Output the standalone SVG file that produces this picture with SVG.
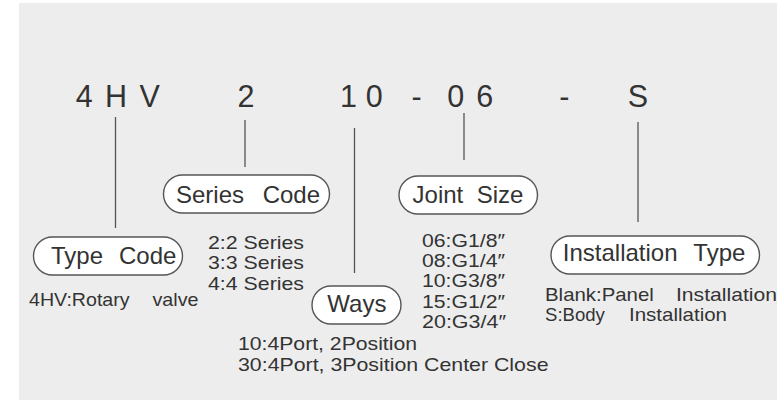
<svg xmlns="http://www.w3.org/2000/svg" width="778" height="402" viewBox="0 0 778 402">
<style>
  text { font-family: "Liberation Sans", Arial, "DejaVu Sans", sans-serif; fill: #333; }
  .code { font-size: 30.5px; text-anchor: middle; }
  .pill { fill: #fff; stroke: #555; stroke-width: 1.4; }
  .lbl { font-size: 24px; }
  .sm { font-size: 18.5px; }
  .conn line { stroke: #555; stroke-width: 1.3; }
</style>
<rect x="19" y="3" width="758" height="397" fill="#ededed"/>

<g id="model-code">
  <text class="code" x="84.3" y="106.7">4</text>
  <text class="code" x="116" y="106.7">H</text>
  <text class="code" x="149.7" y="106.7">V</text>
  <text class="code" x="246" y="106.7">2</text>
  <text class="code" x="348.6" y="106.7">1</text>
  <text class="code" x="374.2" y="106.7">0</text>
  <text class="code" x="416.7" y="106.7">-</text>
  <text class="code" x="455.8" y="106.7">0</text>
  <text class="code" x="484.7" y="106.7">6</text>
  <text class="code" x="564.3" y="106.7">-</text>
  <text class="code" x="637.8" y="106.7">S</text>
</g>

<g id="connectors" class="conn">
  <line x1="115.5" y1="117" x2="115.5" y2="228"/>
  <line x1="245" y1="120" x2="245" y2="167"/>
  <line x1="354.5" y1="128" x2="354.5" y2="273"/>
  <line x1="464" y1="113" x2="464" y2="160"/>
  <line x1="638" y1="122" x2="638" y2="222"/>
</g>

<g id="type-code">
  <rect class="pill" x="33.5" y="237" width="149" height="38" rx="19"/>
  <text class="lbl" y="263.5"><tspan x="51">Type </tspan><tspan x="119">Code</tspan></text>
  <text class="sm" y="306"><tspan x="29" textLength="106" lengthAdjust="spacingAndGlyphs">4HV:Rotary </tspan><tspan x="152.5" textLength="46" lengthAdjust="spacingAndGlyphs">valve</tspan></text>
</g>

<g id="series-code">
  <rect class="pill" x="163.5" y="175" width="166" height="38" rx="19"/>
  <text class="lbl" y="202.7"><tspan x="176">Series </tspan><tspan x="262.7">Code</tspan></text>
  <text class="sm" x="208" y="248.5" textLength="96" lengthAdjust="spacingAndGlyphs">2:2 Series</text>
  <text class="sm" x="208" y="269" textLength="96" lengthAdjust="spacingAndGlyphs">3:3 Series</text>
  <text class="sm" x="208" y="289.5" textLength="96" lengthAdjust="spacingAndGlyphs">4:4 Series</text>
</g>

<g id="ways">
  <rect class="pill" x="312" y="286" width="89" height="38" rx="19"/>
  <text class="lbl" x="327.3" y="311.7">Ways</text>
  <text class="sm" x="238" y="350" textLength="179" lengthAdjust="spacingAndGlyphs">10:4Port, 2Position</text>
  <text class="sm" x="238" y="370.5" textLength="310.5" lengthAdjust="spacingAndGlyphs">30:4Port, 3Position Center Close</text>
</g>

<g id="joint-size">
  <rect class="pill" x="399" y="176" width="138.5" height="38" rx="19"/>
  <text class="lbl" y="203.3"><tspan x="412.6">Joint </tspan><tspan x="476.7">Size</tspan></text>
  <text class="sm" x="422" y="247.3" textLength="83" lengthAdjust="spacingAndGlyphs">06:G1/8″</text>
  <text class="sm" x="422" y="267" textLength="83" lengthAdjust="spacingAndGlyphs">08:G1/4″</text>
  <text class="sm" x="422" y="287" textLength="83" lengthAdjust="spacingAndGlyphs">10:G3/8″</text>
  <text class="sm" x="422" y="307.5" textLength="83" lengthAdjust="spacingAndGlyphs">15:G1/2″</text>
  <text class="sm" x="422" y="327.7" textLength="84" lengthAdjust="spacingAndGlyphs">20:G3/4″</text>
</g>

<g id="installation-type">
  <rect class="pill" x="551" y="236" width="208.5" height="38" rx="19"/>
  <text class="lbl" y="260.7"><tspan x="562.8">Installation </tspan><tspan x="693.3">Type</tspan></text>
  <text class="sm" y="301"><tspan x="545" textLength="114.5" lengthAdjust="spacingAndGlyphs">Blank:Panel </tspan><tspan x="676" textLength="101" lengthAdjust="spacingAndGlyphs">Installation</tspan></text>
  <text class="sm" y="321"><tspan x="545" textLength="65" lengthAdjust="spacingAndGlyphs">S:Body </tspan><tspan x="629" textLength="98" lengthAdjust="spacingAndGlyphs">Installation</tspan></text>
</g>
</svg>
